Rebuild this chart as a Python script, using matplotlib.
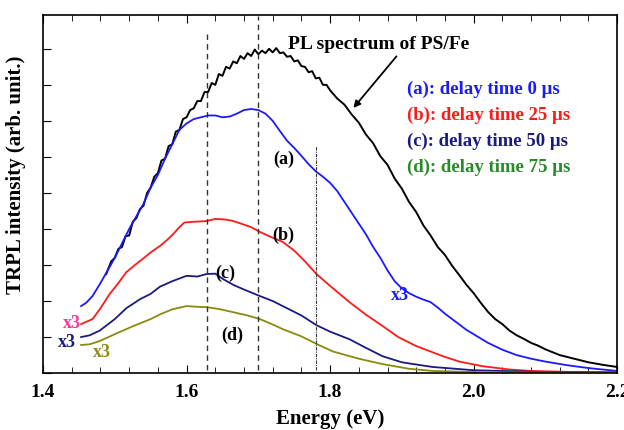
import matplotlib.pyplot as plt
from matplotlib.ticker import MultipleLocator

plt.rcParams['font.family'] = ['Liberation Serif', 'DejaVu Serif']
plt.rcParams['font.weight'] = 'bold'

pl_x = [1.488, 1.495, 1.50, 1.505, 1.51, 1.515, 1.52, 1.525, 1.53, 1.535, 1.54, 1.545,
        1.55, 1.555, 1.56, 1.565, 1.57, 1.575, 1.58, 1.585, 1.59, 1.595, 1.60, 1.605,
        1.61, 1.615, 1.62, 1.625, 1.63, 1.635, 1.64, 1.645, 1.65, 1.655, 1.66, 1.665,
        1.67, 1.675, 1.68, 1.685, 1.69, 1.695, 1.70, 1.705, 1.71, 1.715, 1.72, 1.725,
        1.73, 1.735, 1.74, 1.745, 1.75, 1.755, 1.76, 1.765, 1.77, 1.775, 1.78, 1.785,
        1.79, 1.795, 1.80, 1.81, 1.82, 1.83, 1.84, 1.85, 1.86, 1.87, 1.88, 1.89,
        1.90, 1.91, 1.92, 1.93, 1.94, 1.95, 1.96, 1.97, 1.98, 1.99, 2.00, 2.01,
        2.02, 2.03, 2.04, 2.05, 2.06, 2.07, 2.08, 2.09, 2.10, 2.12, 2.14, 2.16,
        2.18, 2.20]
pl_y = [2.75, 3.1, 3.2, 3.45, 3.5, 3.8, 3.82, 4.2, 4.3, 4.55, 4.65, 5.0,
        5.15, 5.45, 5.55, 5.9, 5.95, 6.3, 6.35, 6.7, 6.75, 7.05, 7.1, 7.3,
        7.35, 7.55, 7.55, 7.8, 7.8, 8.05, 8.0, 8.3, 8.25, 8.5, 8.45, 8.65,
        8.6, 8.8, 8.72, 8.88, 8.8, 8.98, 8.85, 8.95, 8.88, 9.0, 8.9, 9.02,
        8.88, 8.9, 8.78, 8.8, 8.65, 8.68, 8.52, 8.5, 8.35, 8.38, 8.18, 8.2,
        8.0, 8.0, 7.85, 7.62, 7.45, 7.18, 6.95, 6.62, 6.38, 6.02, 5.78, 5.4,
        5.12, 4.75, 4.47, 4.1, 3.82, 3.5, 3.28, 2.98, 2.72, 2.45, 2.22, 1.95,
        1.7, 1.5, 1.36, 1.18, 1.05, 0.95, 0.84, 0.76, 0.66, 0.5, 0.4, 0.3,
        0.23, 0.17]

# (a) delay 0 us (blue)
a_x = [1.453, 1.46, 1.469, 1.48, 1.49, 1.50, 1.51, 1.52, 1.53, 1.54, 1.55, 1.56,
       1.57, 1.58, 1.59, 1.60, 1.61, 1.62, 1.63, 1.64, 1.65, 1.66, 1.67, 1.68,
       1.69, 1.70, 1.71, 1.72, 1.73, 1.74, 1.75, 1.76, 1.77, 1.78, 1.79, 1.80,
       1.81, 1.82, 1.83, 1.84, 1.85, 1.86, 1.87, 1.88, 1.89, 1.90, 1.91, 1.92,
       1.93, 1.94, 1.95, 1.96, 1.97, 1.98, 1.99, 2.00, 2.02, 2.04, 2.06, 2.08,
       2.10, 2.13, 2.16, 2.20]
a_y = [1.86, 1.95, 2.14, 2.5, 2.85, 3.2, 3.6, 4.0, 4.35, 4.7, 5.15, 5.5,
       5.95, 6.35, 6.75, 6.93, 7.05, 7.1, 7.15, 7.15, 7.1, 7.12, 7.2, 7.3,
       7.33, 7.3, 7.2, 7.0, 6.72, 6.45, 6.25, 6.03, 5.8, 5.6, 5.45, 5.28,
       5.05, 4.75, 4.45, 4.15, 3.85, 3.5, 3.2, 2.85, 2.55, 2.35, 2.22, 2.12,
       2.04, 1.97, 1.82, 1.65, 1.5, 1.35, 1.2, 1.08, 0.84, 0.65, 0.5, 0.4,
       0.32, 0.22, 0.14, 0.06]

# (b) delay 25 us (red)
b_x = [1.453, 1.469, 1.48, 1.493, 1.505, 1.516, 1.528, 1.539, 1.55, 1.563, 1.572, 1.581,
       1.59, 1.597, 1.61, 1.628, 1.64, 1.655, 1.665, 1.68, 1.69, 1.702, 1.715, 1.734,
       1.75, 1.765, 1.781, 1.80, 1.827, 1.85, 1.873, 1.895, 1.92, 1.94, 1.957, 1.98,
       2.013, 2.05, 2.08, 2.14, 2.2]
b_y = [1.36, 1.5, 1.8, 2.2, 2.5, 2.8, 3.0, 3.17, 3.35, 3.53, 3.68, 3.85,
       4.05, 4.18, 4.2, 4.22, 4.28, 4.26, 4.22, 4.12, 4.05, 3.92, 3.8, 3.64,
       3.4, 3.1, 2.75, 2.42, 1.97, 1.62, 1.31, 1.0, 0.75, 0.6, 0.47, 0.32,
       0.19, 0.1, 0.06, 0.03, 0.02]

# (c) delay 50 us (navy)
c_x = [1.453, 1.465, 1.479, 1.50, 1.516, 1.535, 1.55, 1.563, 1.58, 1.60, 1.615, 1.628,
       1.64, 1.65, 1.665, 1.68, 1.702, 1.72, 1.734, 1.76, 1.781, 1.80, 1.827, 1.85,
       1.873, 1.90, 1.943, 2.0, 2.1, 2.2]
c_y = [1.0, 1.05, 1.18, 1.5, 1.8, 2.05, 2.2, 2.4, 2.55, 2.7, 2.68, 2.75,
       2.76, 2.62, 2.45, 2.32, 2.14, 2.0, 1.86, 1.6, 1.33, 1.15, 0.94, 0.7,
       0.47, 0.3, 0.17, 0.08, 0.03, 0.02]

# (d) delay 75 us (olive)
d_x = [1.453, 1.465, 1.479, 1.50, 1.525, 1.55, 1.563, 1.58, 1.60, 1.615, 1.628, 1.645,
       1.665, 1.685, 1.702, 1.72, 1.734, 1.76, 1.781, 1.804, 1.84, 1.873, 1.91, 1.943,
       2.02, 2.2]
d_y = [0.78, 0.8, 0.89, 1.08, 1.3, 1.5, 1.63, 1.77, 1.86, 1.84, 1.83, 1.78,
       1.69, 1.6, 1.5, 1.35, 1.22, 1.02, 0.81, 0.6, 0.4, 0.25, 0.12, 0.06,
       0.02, 0.01]

legend_lines = ['(a): delay time 0 \u03bcs', '(b): delay time 25 \u03bcs',
                '(c): delay time 50 \u03bcs', '(d): delay time 75 \u03bcs']
legend_colors = ['#1a1aff', '#ff1a1a', '#1a1a80', '#2a8a2a']

fig = plt.figure(figsize=(6.24, 4.31), dpi=100)
ax = fig.add_axes([0.069, 0.132, 0.920, 0.831])

ax.plot(pl_x, pl_y, color='black', lw=1.4)
ax.plot(a_x, a_y, color='#1a1aff', lw=1.3)
ax.plot(b_x, b_y, color='#ff1a1a', lw=1.3)
ax.plot(c_x, c_y, color='#1a1a80', lw=1.3)
ax.plot(d_x, d_y, color='#8a8a10', lw=1.3)

ax.plot([1.628, 1.628], [0.1, 9.4], color='#333333', lw=1, ls=(0, (4, 3)))
ax.plot([1.70, 1.70], [0.1, 9.9], color='#333333', lw=1, ls=(0, (4, 3)))
ax.plot([1.781, 1.781], [0.1, 6.3], color='#333333', lw=0.8, ls=(0, (3, 1, 1, 1)))

ax.set_xlim(1.4, 2.2)
ax.set_ylim(0, 9.94)
ax.xaxis.set_major_locator(MultipleLocator(0.2))
ax.xaxis.set_minor_locator(MultipleLocator(0.04))
ax.yaxis.set_major_locator(MultipleLocator(1))
ax.set_yticklabels([])
ax.tick_params(axis='x', which='both', direction='in', top=True, labelsize=14, pad=7)
ax.tick_params(axis='x', which='major', length=6)
ax.tick_params(axis='x', which='minor', length=4)
ax.tick_params(axis='y', direction='in', length=6)
for lab in ax.get_xticklabels():
    lab.set_fontweight('bold')
for s in ax.spines.values():
    s.set_linewidth(1.2)

ax.set_xlabel('Energy (eV)', fontsize=15, fontweight='bold', labelpad=6)
ax.set_ylabel('TRPL intensity (arb. unit.)', fontsize=15, fontweight='bold')
ax.yaxis.set_label_coords(-0.03, 0.556)

ax.text(1.8676, 9.15, 'PL spectrum of PS/Fe', fontsize=14, fontweight='bold', ha='center', va='center')
ax.annotate('', xy=(1.83, 7.3), xytext=(1.895, 8.85),
            arrowprops=dict(arrowstyle='-|>', color='black', lw=1.3, mutation_scale=10))
for i, (t, c) in enumerate(zip(legend_lines, legend_colors)):
    ax.text(1.907, 7.9 - i * 0.72, t, color=c, fontsize=13.5, fontweight='bold', va='center')

ax.text(1.735, 5.95, '(a)', fontsize=13, fontweight='bold', ha='center', va='center')
ax.text(1.735, 3.86, '(b)', fontsize=13, fontweight='bold', ha='center', va='center')
ax.text(1.654, 2.8, '(c)', fontsize=13, fontweight='bold', ha='center', va='center')
ax.text(1.664, 1.08, '(d)', fontsize=13, fontweight='bold', ha='center', va='center')
ax.text(1.897, 2.18, 'x3', color='#1a1aff', fontsize=13, fontweight='bold', ha='center', va='center')
ax.text(1.44, 1.4, 'x3', color='#ff3399', fontsize=13, fontweight='bold', ha='center', va='center')
ax.text(1.433, 0.88, 'x3', color='#1a1a80', fontsize=13, fontweight='bold', ha='center', va='center')
ax.text(1.482, 0.6, 'x3', color='#8a8a10', fontsize=13, fontweight='bold', ha='center', va='center')

fig.savefig('out.png', dpi=100)
